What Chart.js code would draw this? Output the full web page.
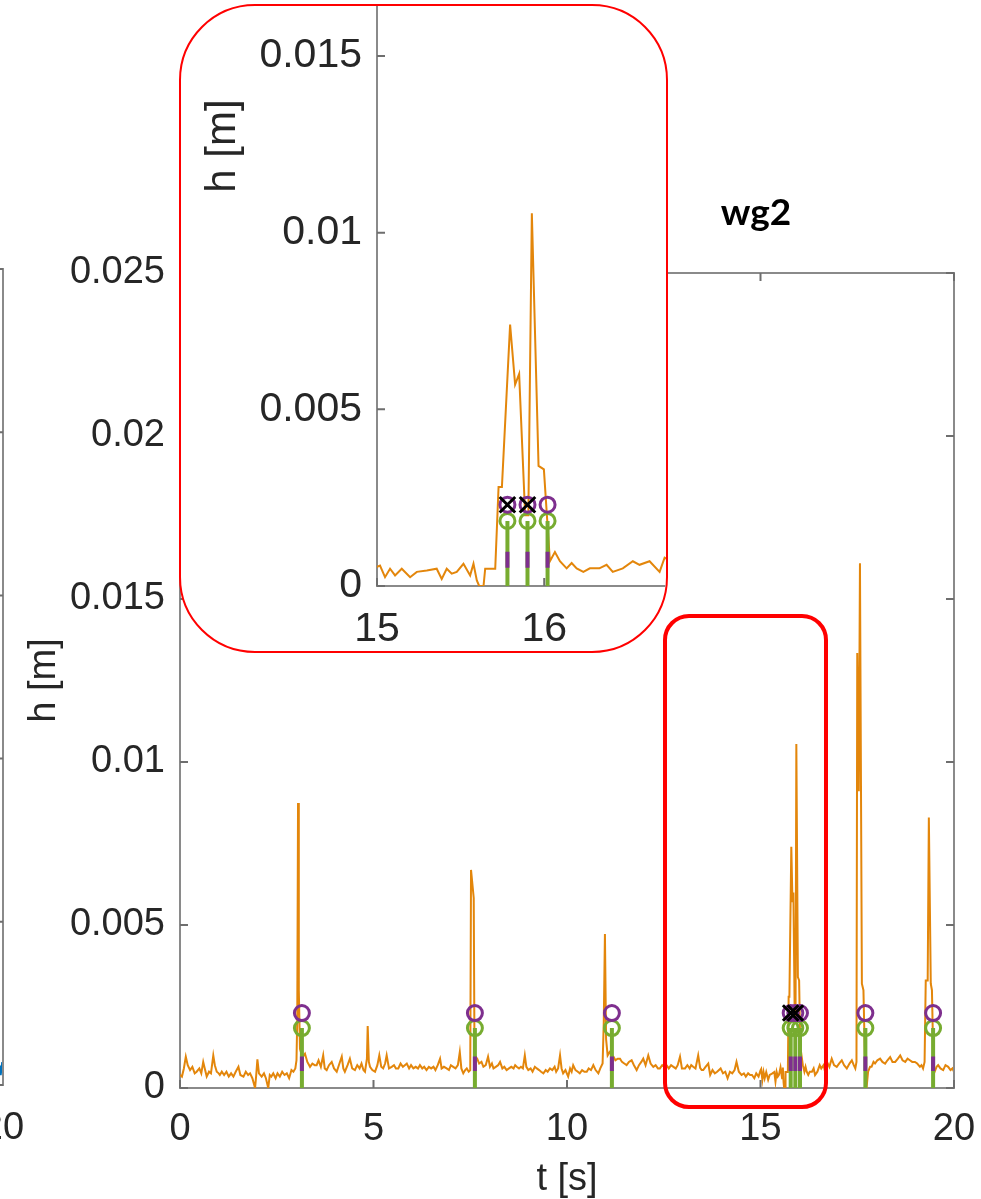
<!DOCTYPE html>
<html>
<head>
<meta charset="utf-8">
<title>wg2</title>
<script src="https://cdn.jsdelivr.net/npm/chart.js@4.4.1/dist/chart.umd.min.js"></script>
<style>
  html, body { margin: 0; padding: 0; background: #fff; }
  body { width: 981px; height: 1199px; position: relative; overflow: hidden; }
  canvas { position: absolute; }
  #main { left: 0; top: 0; }
  #prev { left: -397px; top: 0; }
  #zoomBox {
    position: absolute; left: 663px; top: 614px; width: 165px; height: 495px;
    box-sizing: border-box; border: 4px solid #ff0000; border-radius: 26px;
  }
  #inset {
    position: absolute; left: 179px; top: 4px; width: 489px; height: 649px;
    box-sizing: border-box; border: 2px solid #ff0000; border-radius: 76px;
    overflow: hidden; background: #fff;
  }
  #insetCanvas { left: 0; top: -20px; }
</style>
</head>
<body>
<canvas id="prev" width="430" height="1199"></canvas>
<canvas id="main" width="981" height="1199"></canvas>
<div id="zoomBox"></div>
<div id="inset"><canvas id="insetCanvas" width="520" height="680"></canvas></div>

<script>
// ---- wave gauge wg2: time [s] and surface elevation h [m] ----
const tS = [
  0.00, 0.05, 0.10, 0.15, 0.20, 0.26, 0.32, 0.38, 0.43, 0.50,
  0.55, 0.60, 0.64, 0.69, 0.75, 0.80, 0.86, 0.90, 0.95, 1.00,
  1.03, 1.08, 1.14, 1.20, 1.26, 1.32, 1.38, 1.44, 1.51, 1.56,
  1.64, 1.70, 1.76, 1.81, 1.87, 1.94, 1.97, 2.00, 2.04, 2.11,
  2.17, 2.22, 2.28, 2.32, 2.36, 2.41, 2.47, 2.52, 2.58, 2.64,
  2.70, 2.76, 2.82, 2.88, 2.93, 2.98, 3.01, 3.03, 3.05, 3.07,
  3.10, 3.15, 3.20, 3.23, 3.29, 3.36, 3.42, 3.48, 3.53, 3.58,
  3.64, 3.70, 3.74, 3.79, 3.85, 3.92, 3.98, 4.05, 4.12, 4.18,
  4.22, 4.26, 4.33, 4.39, 4.45, 4.52, 4.58, 4.64, 4.69, 4.74,
  4.78, 4.83, 4.85, 4.88, 4.91, 4.97, 5.04, 5.10, 5.15, 5.20,
  5.25, 5.30, 5.34, 5.40, 5.47, 5.53, 5.58, 5.64, 5.70, 5.76,
  5.81, 5.86, 5.92, 5.97, 6.03, 6.09, 6.15, 6.20, 6.26, 6.31,
  6.37, 6.43, 6.49, 6.55, 6.60, 6.66, 6.72, 6.76, 6.82, 6.89,
  6.95, 7.00, 7.06, 7.12, 7.18, 7.23, 7.27, 7.32, 7.37, 7.41,
  7.46, 7.50, 7.52, 7.59, 7.61, 7.68, 7.73, 7.79, 7.84, 7.90,
  7.96, 8.01, 8.06, 8.10, 8.16, 8.22, 8.27, 8.33, 8.38, 8.44,
  8.50, 8.56, 8.62, 8.66, 8.70, 8.76, 8.81, 8.86, 8.91, 8.95,
  9.00, 9.06, 9.11, 9.17, 9.22, 9.28, 9.33, 9.39, 9.45, 9.50,
  9.56, 9.62, 9.68, 9.72, 9.77, 9.82, 9.86, 9.90, 9.96, 10.03,
  10.08, 10.12, 10.16, 10.22, 10.28, 10.33, 10.39, 10.45, 10.51, 10.56,
  10.62, 10.68, 10.74, 10.81, 10.86, 10.92, 10.95, 10.98, 11.01, 11.05,
  11.10, 11.16, 11.20, 11.25, 11.31, 11.37, 11.42, 11.48, 11.54, 11.60,
  11.67, 11.73, 11.80, 11.86, 11.92, 11.97, 12.03, 12.10, 12.16, 12.23,
  12.29, 12.35, 12.40, 12.46, 12.51, 12.57, 12.63, 12.69, 12.75, 12.81,
  12.86, 12.92, 12.97, 13.05, 13.11, 13.17, 13.21, 13.26, 13.32, 13.39,
  13.44, 13.48, 13.52, 13.58, 13.65, 13.70, 13.76, 13.82, 13.88, 13.97,
  14.03, 14.09, 14.15, 14.21, 14.27, 14.33, 14.38, 14.44, 14.51, 14.57,
  14.62, 14.68, 14.73, 14.78, 14.84, 14.89, 14.95, 15.000, 15.018, 15.048,
  15.078, 15.108, 15.148, 15.198, 15.238, 15.298, 15.357, 15.387, 15.417, 15.447,
  15.477, 15.517, 15.557, 15.577, 15.597, 15.611, 15.637, 15.647, 15.707, 15.727,
  15.747, 15.796, 15.826, 15.850, 15.886, 15.905, 15.926, 15.966, 15.998, 16.034,
  16.064, 16.094, 16.134, 16.164, 16.194, 16.234, 16.273, 16.330, 16.373, 16.410,
  16.470, 16.530, 16.570, 16.630, 16.690, 16.720, 16.78, 16.84, 16.90, 16.97,
  17.03, 17.10, 17.16, 17.23, 17.30, 17.36, 17.41, 17.45, 17.48, 17.50,
  17.54, 17.57, 17.62, 17.66, 17.70, 17.74, 17.78, 17.83, 17.87, 17.92,
  17.96, 18.02, 18.09, 18.15, 18.22, 18.28, 18.35, 18.41, 18.48, 18.55,
  18.61, 18.67, 18.74, 18.80, 18.86, 18.92, 18.99, 19.05, 19.12, 19.16,
  19.20, 19.24, 19.27, 19.32, 19.35, 19.40, 19.43, 19.47, 19.50, 19.55,
  19.59, 19.65, 19.72, 19.78, 19.85, 19.91, 19.96, 20.00
];
const hM = [
  0.00040, 0.00035, 0.00060, 0.00096, 0.00070, 0.00055, 0.00065, 0.00045, 0.00050, 0.00060,
  0.00045, 0.00080, 0.00060, 0.00035, 0.00050, 0.00045, 0.00100, 0.00070, 0.00050, 0.00045,
  0.00040, 0.00050, 0.00040, 0.00050, 0.00035, 0.00045, 0.00035, 0.00050, 0.00065, 0.00040,
  0.00035, 0.00050, 0.00040, 0.00045, 0.00030, 0.00000, 0.00040, 0.00088, 0.00045, 0.00035,
  0.00045, 0.00030, 0.00000, 0.00040, 0.00035, 0.00045, 0.00030, 0.00045, 0.00035, 0.00050,
  0.00040, 0.00045, 0.00030, 0.00055, 0.00050, 0.00060, 0.00085, 0.00210, 0.00874, 0.00300,
  0.00120, 0.00100, 0.00100, 0.00105, 0.00080, 0.00065, 0.00075, 0.00070, 0.00070, 0.00085,
  0.00065, 0.00100, 0.00060, 0.00055, 0.00070, 0.00080, 0.00060, 0.00050, 0.00075, 0.00096,
  0.00060, 0.00050, 0.00070, 0.00090, 0.00060, 0.00055, 0.00070, 0.00060, 0.00075, 0.00055,
  0.00050, 0.00090, 0.00190, 0.00080, 0.00065, 0.00055, 0.00050, 0.00070, 0.00100, 0.00065,
  0.00060, 0.00075, 0.00100, 0.00060, 0.00065, 0.00070, 0.00060, 0.00060, 0.00075, 0.00065,
  0.00070, 0.00075, 0.00060, 0.00070, 0.00060, 0.00065, 0.00060, 0.00070, 0.00060, 0.00065,
  0.00055, 0.00065, 0.00060, 0.00065, 0.00055, 0.00070, 0.00090, 0.00060, 0.00065, 0.00060,
  0.00055, 0.00070, 0.00065, 0.00060, 0.00070, 0.00110, 0.00060, 0.00045, 0.00055, 0.00060,
  0.00050, 0.00055, 0.00669, 0.00583, 0.00100, 0.00090, 0.00075, 0.00080, 0.00065, 0.00070,
  0.00096, 0.00065, 0.00075, 0.00060, 0.00065, 0.00070, 0.00080, 0.00060, 0.00065, 0.00055,
  0.00060, 0.00065, 0.00060, 0.00070, 0.00065, 0.00060, 0.00065, 0.00060, 0.00100, 0.00065,
  0.00055, 0.00060, 0.00050, 0.00065, 0.00060, 0.00055, 0.00050, 0.00045, 0.00055, 0.00050,
  0.00060, 0.00055, 0.00065, 0.00050, 0.00060, 0.00100, 0.00060, 0.00045, 0.00055, 0.00035,
  0.00060, 0.00050, 0.00070, 0.00055, 0.00050, 0.00045, 0.00055, 0.00050, 0.00050, 0.00060,
  0.00055, 0.00070, 0.00055, 0.00045, 0.00060, 0.00075, 0.00200, 0.00472, 0.00150, 0.00100,
  0.00110, 0.00100, 0.00096, 0.00085, 0.00090, 0.00090, 0.00080, 0.00075, 0.00070, 0.00080,
  0.00085, 0.00070, 0.00055, 0.00070, 0.00080, 0.00090, 0.00070, 0.00100, 0.00075, 0.00065,
  0.00070, 0.00060, 0.00060, 0.00070, 0.00065, 0.00070, 0.00060, 0.00070, 0.00065, 0.00060,
  0.00070, 0.00096, 0.00060, 0.00060, 0.00070, 0.00060, 0.00070, 0.00065, 0.00060, 0.00100,
  0.00062, 0.00055, 0.00055, 0.00065, 0.00075, 0.00040, 0.00055, 0.00045, 0.00050, 0.00060,
  0.00045, 0.00050, 0.00030, 0.00050, 0.00045, 0.00055, 0.00080, 0.00050, 0.00040, 0.00045,
  0.00035, 0.00045, 0.00040, 0.00040, 0.00030, 0.00045, 0.00035, 0.00054, 0.00058, 0.00025,
  0.00049, 0.00030, 0.00049, 0.00025, 0.00040, 0.00044, 0.00049, 0.00020, 0.00049, 0.00035,
  0.00040, 0.00063, 0.00030, 0.00063, 0.00016, 0.00000, 0.00000, 0.00049, 0.00049, 0.00280,
  0.00280, 0.00740, 0.00570, 0.00600, 0.00200, 0.00200, 0.01055, 0.00340, 0.00330, 0.00070,
  0.00096, 0.00070, 0.00050, 0.00065, 0.00050, 0.00040, 0.00050, 0.00050, 0.00060, 0.00040,
  0.00050, 0.00070, 0.00060, 0.00070, 0.00040, 0.00080, 0.00065, 0.00090, 0.00070, 0.00065,
  0.00075, 0.00085, 0.00070, 0.00060, 0.00075, 0.00085, 0.00070, 0.00060, 0.00080, 0.01334,
  0.00910, 0.01610, 0.00320, 0.00300, 0.00080, 0.00000, 0.00050, 0.00065, 0.00065, 0.00080,
  0.00075, 0.00085, 0.00090, 0.00080, 0.00075, 0.00085, 0.00095, 0.00080, 0.00080, 0.00090,
  0.00100, 0.00085, 0.00080, 0.00090, 0.00085, 0.00080, 0.00080, 0.00075, 0.00065, 0.00070,
  0.00060, 0.00080, 0.00330, 0.00330, 0.00830, 0.00320, 0.00300, 0.00060, 0.00050, 0.00065,
  0.00070, 0.00060, 0.00055, 0.00070, 0.00065, 0.00055, 0.00060, 0.00050
];

// detected wave events: stems, circle markers and crosses
const eventT      = [3.15, 7.62, 11.16, 15.78, 15.90, 16.02, 17.71, 19.46];
const greenTop    = [0.00184, 0.00184, 0.00184, 0.00184, 0.00184, 0.00184, 0.00184, 0.00184];
const purpleTop   = [0.00230, 0.00230, 0.00230, 0.00230, 0.00230, 0.00230, 0.00230, 0.00230];
const purpleLow   = [0.00052, 0.00052, 0.00052, 0.00052, 0.00052, 0.00052, 0.00052, 0.00052];
const purpleHigh  = [0.00097, 0.00097, 0.00097, 0.00097, 0.00097, 0.00097, 0.00097, 0.00097];
const crossT      = [15.78, 15.90];
const crossH      = [0.00230, 0.00230];

// axis ticks
const xTicksMain  = [0, 5, 10, 15, 20];
const xLabelsMain = ['0', '5', '10', '15', '20'];
const yTicksMain  = [0, 0.005, 0.01, 0.015, 0.02, 0.025];
const yLabelsMain = ['0', '0.005', '0.01', '0.015', '0.02', '0.025'];
const xTicksInset  = [15, 16];
const xLabelsInset = ['15', '16'];
const yTicksInset  = [0, 0.005, 0.01, 0.015];
const yLabelsInset = ['0', '0.005', '0.01', '0.015'];

// neighbouring panel (only its right edge is in view)
const prevT = [19.80, 19.84, 19.88, 19.92, 19.96, 20.00];
const prevH = [0.00040, 0.00060, 0.00030, 0.00050, 0.00070, 0.00040];

// ---- styling ----
const FONT = "'Liberation Sans', Arial, Helvetica, sans-serif";
const TEXT = '#262626';
const AXIS = '#8a8a8a';
const ORANGE = '#e3860b';
const GREEN = '#77ac30';
const PURPLE = '#7e2f8e';

// MATLAB-like inward tick marks and box lines
const axisBox = {
  id: 'axisBox',
  afterDatasetsDraw(chart, args, o) {
    if (!o || !o.sides) return;
    const a = chart.chartArea, ctx = chart.ctx;
    const xs = chart.scales.x, ys = chart.scales.y;
    ctx.save();
    ctx.lineWidth = o.width;
    ctx.strokeStyle = o.color;
    if (o.box) {
      ctx.beginPath();
      ctx.moveTo(a.left, a.top);
      ctx.lineTo(a.right, a.top);
      ctx.lineTo(a.right, a.bottom);
      ctx.stroke();
    }
    ctx.strokeStyle = o.tickColor;
    ctx.beginPath();
    xs.ticks.forEach(t => {
      const p = xs.getPixelForValue(t.value);
      if (o.sides.includes('bottom')) { ctx.moveTo(p, a.bottom); ctx.lineTo(p, a.bottom - o.len); }
      if (o.sides.includes('top')) { ctx.moveTo(p, a.top); ctx.lineTo(p, a.top + o.len); }
    });
    ys.ticks.forEach(t => {
      const p = ys.getPixelForValue(t.value);
      if (o.sides.includes('left')) { ctx.moveTo(a.left, p); ctx.lineTo(a.left + o.len, p); }
      if (o.sides.includes('right')) { ctx.moveTo(a.right, p); ctx.lineTo(a.right - o.len, p); }
    });
    ctx.stroke();
    ctx.restore();
  }
};

// free-standing text (panel title, rotated axis captions)
const freeText = {
  id: 'freeText',
  afterDraw(chart, args, o) {
    if (!o || !o.items) return;
    const ctx = chart.ctx;
    o.items.forEach(it => {
      ctx.save();
      ctx.font = it.font;
      ctx.fillStyle = it.color;
      ctx.textAlign = 'center';
      ctx.textBaseline = 'middle';
      ctx.translate(it.x, it.y);
      if (it.rotate) ctx.rotate(it.rotate);
      ctx.fillText(it.text, 0, 0);
      ctx.restore();
    });
  }
};
Chart.register(axisBox, freeText);

function stemSegments(times, lows, highs) {
  const pts = [];
  times.forEach((t, i) => {
    pts.push({ x: t, y: lows[i] }, { x: t, y: highs[i] }, { x: t, y: null });
  });
  return pts;
}

function buildDatasets() {
  const zeros = eventT.map(() => 0);
  return [
    {
      data: tS.map((t, i) => ({ x: t, y: hM[i] })),
      borderColor: ORANGE, borderWidth: 2, pointRadius: 0, tension: 0, order: 10
    },
    {
      data: stemSegments(eventT, zeros, greenTop),
      borderColor: GREEN, borderWidth: 4, pointRadius: 0, spanGaps: false, order: 9
    },
    {
      data: stemSegments(eventT, purpleLow, purpleHigh),
      borderColor: PURPLE, borderWidth: 4, pointRadius: 0, spanGaps: false, order: 8
    },
    {
      data: eventT.map((t, i) => ({ x: t, y: greenTop[i] })),
      showLine: false, pointStyle: 'circle', pointRadius: 7.5, pointBorderWidth: 3,
      pointBorderColor: GREEN, pointBackgroundColor: 'rgba(0,0,0,0)', order: 7
    },
    {
      data: eventT.map((t, i) => ({ x: t, y: purpleTop[i] })),
      showLine: false, pointStyle: 'circle', pointRadius: 7.5, pointBorderWidth: 3,
      pointBorderColor: PURPLE, pointBackgroundColor: 'rgba(0,0,0,0)', order: 6
    },
    {
      data: crossT.map((t, i) => ({ x: t, y: crossH[i] })),
      showLine: false, pointStyle: 'crossRot', pointRadius: 11, pointBorderWidth: 3,
      pointBorderColor: '#000', pointBackgroundColor: '#000', order: 5
    }
  ];
}

function fixedTicks(values) {
  return scale => { scale.ticks = values.map(v => ({ value: v })); };
}

// fixed axis thickness, and no extra room reserved for end labels
function fixSize(prop, size) {
  return s => {
    s[prop] = size;
    s.paddingLeft = 0; s.paddingRight = 0; s.paddingTop = 0; s.paddingBottom = 0;
  };
}

function axisOptions(cfg) {
  return {
    type: 'linear',
    position: cfg.position,
    min: cfg.min, max: cfg.max,
    afterBuildTicks: fixedTicks(cfg.ticks),
    afterFit: cfg.fit,
    grid: { display: false, drawTicks: false },
    border: { display: cfg.border !== false, color: AXIS, width: 2 },
    ticks: {
      display: cfg.showLabels !== false,
      autoSkip: false, maxRotation: 0, minRotation: 0,
      padding: cfg.pad,
      color: TEXT,
      font: { family: FONT, size: cfg.size },
      callback: (v, i) => cfg.labels[i]
    },
    title: cfg.title ? {
      display: true, text: cfg.title, color: TEXT,
      font: { family: FONT, size: cfg.size, lineHeight: 1 },
      padding: cfg.titlePad
    } : { display: false }
  };
}

const common = {
  responsive: false,
  animation: false,
  devicePixelRatio: 1,
  events: [],
  plugins: { legend: { display: false }, tooltip: { enabled: false } }
};

// neighbouring panel
new Chart(document.getElementById('prev'), {
  type: 'line',
  data: { datasets: [{
    data: prevT.map((t, i) => ({ x: t, y: prevH[i] })),
    borderColor: '#0072bd', borderWidth: 2, pointRadius: 0
  }] },
  options: Object.assign({}, common, {
    layout: { padding: { top: 269, right: 30, left: 0, bottom: 0 } },
    plugins: Object.assign({}, common.plugins, {
      axisBox: { sides: ['right'], box: true, len: 8, width: 2, color: AXIS, tickColor: '#6e6e6e' }
    }),
    scales: {
      x: axisOptions({ position: 'bottom', min: 0, max: 20, ticks: xTicksMain, labels: xLabelsMain,
        size: 38, pad: 21, fit: fixSize('height', 114) }),
      y: axisOptions({ position: 'left', min: 0, max: 0.025, ticks: yTicksMain, labels: yLabelsMain,
        size: 38, pad: 15, showLabels: false, border: false, fit: fixSize('width', 10) })
    }
  })
});

// main panel
new Chart(document.getElementById('main'), {
  type: 'line',
  data: { datasets: buildDatasets() },
  options: Object.assign({}, common, {
    layout: { padding: { top: 273, right: 27, left: 0, bottom: 0 } },
    plugins: Object.assign({}, common.plugins, {
      axisBox: { sides: ['left', 'right', 'bottom', 'top'], box: true, len: 8, width: 2, color: AXIS, tickColor: '#6e6e6e' },
      freeText: { items: [
        { text: 'wg2', x: 756, y: 213, font: "bold 37px Lato, 'Open Sans', sans-serif", color: '#000' }
      ] }
    }),
    scales: {
      x: axisOptions({ position: 'bottom', min: 0, max: 20, ticks: xTicksMain, labels: xLabelsMain,
        size: 38, pad: 19, title: 't [s]', titlePad: { top: 0, bottom: 0 }, fit: fixSize('height', 111) }),
      y: axisOptions({ position: 'left', min: 0, max: 0.025, ticks: yTicksMain, labels: yLabelsMain,
        size: 38, pad: 15, title: 'h [m]', titlePad: { top: 26, bottom: 0 }, fit: fixSize('width', 180) })
    }
  })
});

// zoomed inset around the 15.7-16.1 s event group
new Chart(document.getElementById('insetCanvas'), {
  type: 'line',
  data: { datasets: buildDatasets() },
  options: Object.assign({}, common, {
    layout: { padding: { top: 17, right: 23, left: 0, bottom: 0 } },
    plugins: Object.assign({}, common.plugins, {
      axisBox: { sides: ['left', 'bottom'], box: false, len: 8, width: 2, color: AXIS, tickColor: '#6e6e6e' },
      freeText: { items: [
        { text: 'h [m]', x: 42, y: 160, rotate: -Math.PI / 2, font: "42px " + FONT, color: TEXT }
      ] }
    }),
    scales: {
      x: axisOptions({ position: 'bottom', min: 15, max: 16.8, ticks: xTicksInset, labels: xLabelsInset,
        size: 41, pad: 19, fit: fixSize('height', 80) }),
      y: axisOptions({ position: 'left', min: 0, max: 0.0165, ticks: yTicksInset, labels: yLabelsInset,
        size: 41, pad: 15, fit: fixSize('width', 196) })
    }
  })
});
</script>
</body>
</html>
